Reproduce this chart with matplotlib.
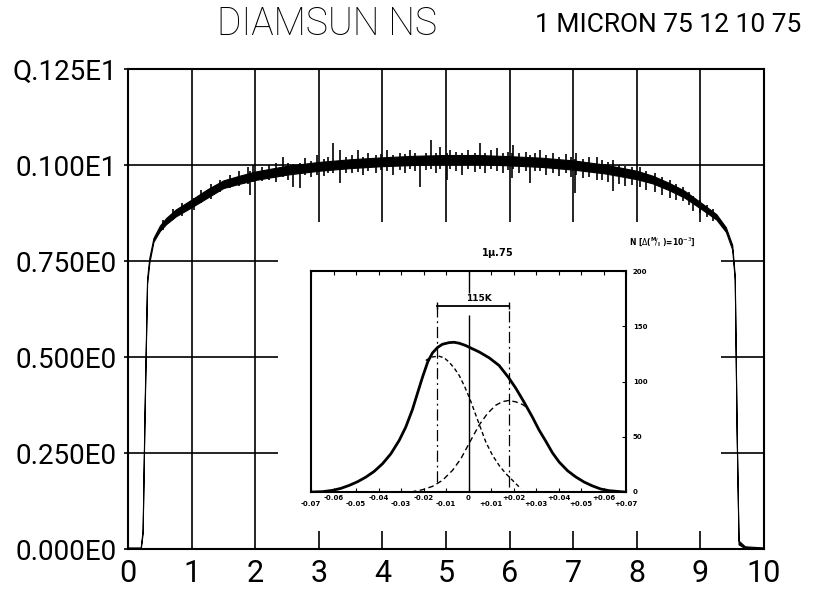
import numpy as np
import matplotlib
matplotlib.use('Agg')
import matplotlib.pyplot as plt
from matplotlib.patches import Rectangle


#################
# Data
#################

# main trace: lower / upper edge of the noisy band
trace_x = [0.0, 0.20, 0.23, 0.26, 0.30, 0.335, 0.40, 0.50, 0.60, 0.75,
           1.00, 1.25, 1.50, 1.75, 2.00, 2.50, 3.00, 3.50, 4.00, 4.50,
           5.00, 5.50, 6.00, 6.50, 7.00, 7.50, 8.00, 8.25, 8.50, 8.75,
           9.00, 9.25, 9.40, 9.50, 9.54, 9.57, 9.60, 9.70, 10.0]
trace_lo = [0.000, 0.000, 0.040, 0.340, 0.690, 0.745, 0.800, 0.828, 0.846, 0.866,
            0.890, 0.915, 0.940, 0.951, 0.961, 0.975, 0.985, 0.992, 0.997, 1.000,
            1.002, 1.002, 0.999, 0.995, 0.988, 0.978, 0.963, 0.952, 0.935, 0.915,
            0.887, 0.858, 0.826, 0.780, 0.702, 0.300, 0.012, 0.002, 0.000]
trace_hi = [0.004, 0.004, 0.050, 0.360, 0.705, 0.758, 0.810, 0.842, 0.862, 0.884,
            0.910, 0.937, 0.960, 0.972, 0.983, 0.998, 1.008, 1.015, 1.020, 1.024,
            1.026, 1.026, 1.023, 1.019, 1.012, 1.001, 0.985, 0.972, 0.954, 0.933,
            0.903, 0.872, 0.838, 0.792, 0.712, 0.312, 0.022, 0.007, 0.004]

# noise excursions of the trace (x, lowest, highest)
noise_x = [0.55, 0.70, 0.85, 1.03, 1.15, 1.30, 1.45, 1.60, 1.75, 1.89,
           1.92, 1.97, 2.10, 2.22, 2.32, 2.44, 2.52, 2.60, 2.70, 2.78,
           2.88, 2.97, 3.08, 3.15, 3.23, 3.33, 3.42, 3.52, 3.62, 3.70,
           3.78, 3.90, 3.98, 4.07, 4.17, 4.28, 4.36, 4.43, 4.52, 4.59,
           4.68, 4.77, 4.85, 4.91, 5.01, 5.06, 5.15, 5.25, 5.35, 5.45,
           5.53, 5.62, 5.70, 5.80, 5.90, 5.97, 6.03, 6.06, 6.15, 6.25,
           6.32, 6.40, 6.48, 6.58, 6.68, 6.78, 6.88, 6.96, 7.03, 7.05,
           7.15, 7.25, 7.37, 7.45, 7.55, 7.63, 7.72, 7.82, 7.92, 8.05,
           8.15, 8.28, 8.40, 8.52, 8.62, 8.72, 8.82, 8.89, 9.00, 9.10,
           9.20]
noise_lo = [0.830, 0.858, 0.868, 0.883, 0.900, 0.912, 0.930, 0.940, 0.945, 0.950,
            0.922, 0.955, 0.958, 0.960, 0.955, 0.968, 0.960, 0.943, 0.939, 0.975,
            0.970, 0.975, 0.972, 0.978, 0.980, 0.952, 0.978, 0.980, 0.982, 0.975,
            0.985, 0.980, 0.986, 0.985, 0.975, 0.988, 0.980, 0.990, 0.985, 0.943,
            0.988, 0.990, 0.980, 0.990, 0.961, 0.990, 0.985, 0.975, 0.990, 0.982,
            0.990, 0.978, 0.990, 0.985, 0.978, 0.988, 0.965, 0.990, 0.980, 0.985,
            0.952, 0.985, 0.985, 0.975, 0.980, 0.972, 0.978, 0.970, 0.926, 0.975,
            0.965, 0.970, 0.960, 0.962, 0.955, 0.931, 0.950, 0.945, 0.948, 0.943,
            0.935, 0.930, 0.922, 0.915, 0.910, 0.905, 0.895, 0.880, 0.875, 0.865,
            0.855]
noise_hi = [0.858, 0.885, 0.900, 0.915, 0.935, 0.950, 0.962, 0.975, 0.985, 0.996,
            0.985, 1.000, 0.995, 1.000, 1.005, 1.022, 1.005, 1.003, 1.005, 1.017,
            1.010, 1.026, 1.015, 1.020, 1.056, 1.039, 1.022, 1.025, 1.039, 1.020,
            1.030, 1.025, 1.028, 1.039, 1.025, 1.030, 1.028, 1.039, 1.030, 1.020,
            1.032, 1.065, 1.030, 1.048, 1.030, 1.039, 1.035, 1.030, 1.040, 1.032,
            1.056, 1.030, 1.038, 1.043, 1.030, 1.035, 1.030, 1.052, 1.030, 1.035,
            1.025, 1.030, 1.039, 1.025, 1.030, 1.022, 1.028, 1.020, 1.015, 1.030,
            1.015, 1.020, 1.022, 1.012, 1.008, 1.013, 1.000, 0.998, 0.995, 0.996,
            0.985, 0.978, 0.968, 0.961, 0.950, 0.942, 0.930, 0.918, 0.910, 0.895,
            0.885]

y_ticks = [0.0, 0.25, 0.50, 0.75, 1.00, 1.25]
y_ticklabels = ['0.000E0', '0.250E0', '0.500E0', '0.750E0', '0.100E1', 'Q.125E1']
x_ticks = [0, 1, 2, 3, 4, 5, 6, 7, 8, 9, 10]

# inset: fitted distribution
fit_x = [-0.0693, -0.0649, -0.0604, -0.0567, -0.0530, -0.0493, -0.0456, -0.0419,
         -0.0382, -0.0345, -0.0308, -0.0279, -0.0249, -0.0227, -0.0204, -0.0181,
         -0.0160, -0.0138, -0.0116, -0.0086, -0.0064, -0.0041, -0.0012, 0.0006,
         0.0047, 0.0092, 0.0136, 0.0178, 0.0210, 0.0247, 0.0284, 0.0313,
         0.0344, 0.0373, 0.0403, 0.0440, 0.0477, 0.0514, 0.0551, 0.0588,
         0.0625, 0.0692]
fit_y = [0.0, 0.3, 1.5, 3.3, 6.0, 9.3, 13.5, 18.7,
         25.6, 34.6, 46.7, 58.7, 74.7, 89.2, 104.2, 117.8,
         125.9, 130.7, 133.7, 135.2, 135.5, 134.6, 132.5, 130.7,
         126.8, 121.4, 114.5, 103.6, 94.0, 81.3, 67.8, 56.3,
         45.8, 35.5, 27.1, 19.3, 13.6, 9.0, 5.5, 2.7,
         1.2, 0.0]

# left component
comp1_x = [-0.0190, -0.0167, -0.0133, -0.0108, -0.0086, -0.0064, -0.0041, -0.0016,
           0.0006, 0.0025, 0.0047, 0.0077, 0.0107, 0.0136, 0.0166, 0.0196, 0.0233]
comp1_y = [119.0, 122.0, 123.0, 121.4, 117.5, 112.3, 105.4, 94.9,
           84.3, 73.8, 61.7, 45.2, 33.1, 24.1, 16.6, 10.5, 3.0]

# right component
comp2_x = [-0.0256, -0.0204, -0.0160, -0.0116, -0.0071, -0.0034, 0.0006, 0.0047,
           0.0084, 0.0121, 0.0151, 0.0178, 0.0210, 0.0240, 0.0262]
comp2_y = [0.0, 2.1, 5.1, 10.5, 19.6, 30.1, 45.2, 60.5,
           71.0, 78.5, 81.8, 82.8, 81.6, 79.2, 76.2]

# the two peak positions and the 115K bar
peak_x = [-0.0138, 0.0178]
peak_bottom = [9.0, 4.5]
bar_y = 168.7

inset_xticks = [-0.07, -0.06, -0.05, -0.04, -0.03, -0.02, -0.01, 0.0,
                0.01, 0.02, 0.03, 0.04, 0.05, 0.06, 0.07]
inset_xticklabels = ['-0.07', '-0.06', '-0.05', '-0.04', '-0.03', '-0.02', '-0.01', '0',
                     '+0.01', '+0.02', '+0.03', '+0.04', '+0.05', '+0.06', '+0.07']
inset_yticks = [0, 50, 100, 150, 200]


#################
# Plot
#################

plot_font = dict(family=['Roboto', 'DejaVu Sans'], weight='normal')
thin_font = dict(family=['Roboto', 'DejaVu Sans'], weight='light')

fig = plt.figure(figsize=(8.16, 5.89), dpi=100)

ax = fig.add_axes([128 / 816, 40 / 589, 636 / 816, 480 / 589])
ax.set_xlim(0, 10)
ax.set_ylim(0, 1.25)
ax.set_axisbelow(True)
ax.grid(color='black', linewidth=1.2)

# area the inset was pasted over
ax.add_patch(Rectangle((2.36, 0.047), 9.32 - 2.36, 0.852 - 0.047,
                       facecolor='white', edgecolor='none', zorder=1))

ax.fill_between(trace_x, trace_lo, trace_hi, color='black',
                linewidth=0.8, zorder=3)
ax.vlines(noise_x, noise_lo, noise_hi, color='black', linewidth=1.2, zorder=3)

ax.set_yticks(y_ticks)
ax.set_yticklabels(y_ticklabels, fontsize=20, **plot_font)
ax.set_xticks(x_ticks)
ax.set_xticklabels([str(t) for t in x_ticks], fontsize=22, **plot_font)
ax.tick_params(axis='y', length=3, width=1.2, pad=5)
ax.tick_params(axis='x', length=0, pad=7)
for sp in ax.spines.values():
    sp.set_linewidth(1.5)

fig.text(327 / 816, 1 - 24 / 589, 'DIAMSUN NS', ha='center', va='center',
         fontsize=27, **thin_font)
fig.text(535 / 816, 1 - 25 / 589, '1 MICRON 75 12 10 75', ha='left', va='center',
         fontsize=19, **plot_font)

# inset
ins = fig.add_axes([311 / 816, 97 / 589, 315 / 816, 221 / 589])
ins.set_xlim(-0.07, 0.07)
ins.set_ylim(0, 200)

ins.plot(fit_x, fit_y, color='black', linewidth=2.0)
ins.plot(comp1_x, comp1_y, color='black', linewidth=1.0, dashes=(3, 2))
ins.plot(comp2_x, comp2_y, color='black', linewidth=1.0, dashes=(4, 2.5))
ins.vlines(peak_x, peak_bottom, bar_y, color='black', linewidth=0.9,
           linestyles=[(0, (9, 3, 1.5, 3))])
ins.plot(peak_x, [bar_y, bar_y], color='black', linewidth=1.3)
ins.vlines(peak_x, bar_y - 3, bar_y + 3, color='black', linewidth=1.0)
ins.vlines([0, 0], [0, 180], [160, 200], color='black', linewidth=1.0)
ins.text(0.0047, bar_y + 2, '115K', ha='center', va='bottom', fontsize=6.5,
         fontweight='bold')

ins.set_xticks(inset_xticks)
ins.set_xticklabels([lab if i % 2 else '\n' + lab
                     for i, lab in enumerate(inset_xticklabels)],
                    fontsize=5, fontweight='bold', linespacing=1.1)
ins.tick_params(axis='x', direction='in', top=True, length=3, width=0.8, pad=2)
ins.yaxis.tick_right()
ins.set_yticks(inset_yticks)
ins.set_yticklabels([str(t) for t in inset_yticks], fontsize=5, fontweight='bold')
ins.tick_params(axis='y', direction='in', length=3, width=0.8, pad=5)
for sp in ins.spines.values():
    sp.set_linewidth(1.5)

ins.text(0.59, 1.08, r'1$\mathbf{\mu}$.75', transform=ins.transAxes, ha='center',
         va='center', fontsize=7, fontweight='bold')
ins.text(1.115, 1.13, r'N [$\Delta$($^{\mathbf{M}}\!/_{\mathbf{I}}$ )=10$^{-3}$]',
         transform=ins.transAxes, ha='center', va='center', fontsize=5.5,
         fontweight='bold')

fig.savefig('out.png', dpi=100)
